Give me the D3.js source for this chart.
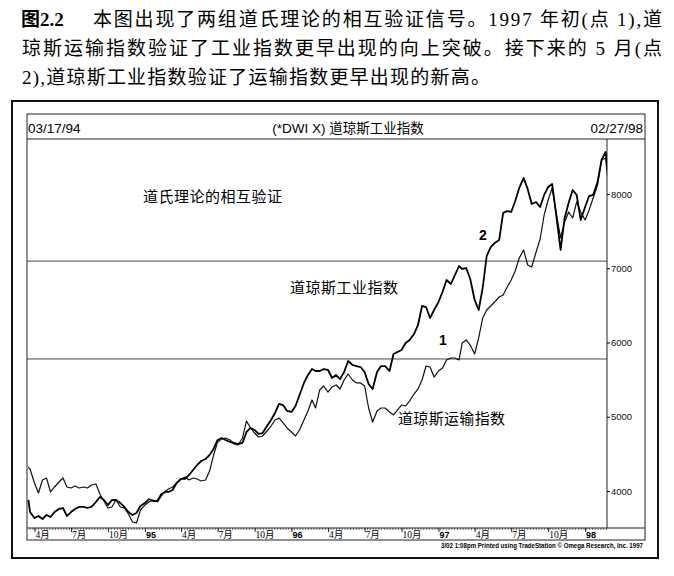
<!DOCTYPE html>
<html>
<head>
<meta charset="utf-8">
<script src="https://cdn.jsdelivr.net/npm/d3@7"></script>
<style>
  body { margin: 0; background: #fff; }
</style>
</head>
<body>
<div class="chart"></div>
<script>
// sample dates: first two days, then the 1st / 11th / 21st of every month, then last day
const firstDates = ['1994-03-17', '1994-03-21'];
const sampleDays = [1, 11, 21];
const lastDates = ['1998-02-27'];

// Dow Jones Industrials (thick line)
const industrials = [
  3879, 3717,
  3636, 3663, 3623, 3677, 3650, 3717, 3758, 3771, 3663,
  3717, 3758, 3785, 3785, 3771, 3785, 3852, 3919, 3879,
  3811, 3879, 3879, 3838, 3785, 3717, 3677, 3704, 3798,
  3838, 3892, 3865, 3865, 3960, 3987, 3987, 4013, 4108,
  4162, 4162, 4216, 4283, 4350, 4404, 4431, 4485, 4566,
  4687, 4714, 4687, 4660, 4647, 4633, 4647, 4795, 4849,
  4822, 4768, 4781, 4875, 4956, 5051, 5172, 5158, 5078,
  5064, 5145, 5293, 5455, 5562, 5643, 5616, 5616, 5643,
  5630, 5522, 5562, 5508, 5603, 5751, 5697, 5683, 5670,
  5603, 5441, 5374, 5603, 5683, 5683, 5616, 5845, 5872,
  5899, 5993, 6034, 6114, 6236, 6492, 6478, 6330, 6438,
  6546, 6680, 6842, 6788, 6909, 7030, 6990, 7003, 6855,
  6573, 6438, 6734, 7165, 7286, 7340, 7380, 7745, 7771,
  7758, 7906, 8081, 8216, 8068, 7866, 7893, 7825, 7987,
  8094, 8135, 7718, 7246, 7677, 7879, 8054, 7987, 7650,
  7825, 7973, 7987, 8162, 8458, 8566,
  8300,
];

// Dow Jones Transports, overlaid on the same scale (thin line)
const transports = [
  4323, 4296,
  4108, 3973, 4148, 4175, 3987, 4054, 4121, 4175, 4054,
  4040, 4067, 4040, 4054, 4040, 4081, 4094, 3960, 3865,
  3771, 3785, 3879, 3785, 3771, 3690, 3582, 3569, 3744,
  3811, 3852, 3879, 3852, 3933, 4000, 4027, 4054, 4108,
  4162, 4189, 4148, 4175, 4162, 4135, 4148, 4269, 4485,
  4660, 4700, 4714, 4687, 4633, 4620, 4714, 4943, 4849,
  4781, 4727, 4741, 4808, 4875, 4956, 4983, 4916, 4849,
  4795, 4741, 4822, 4956, 5078, 5226, 5118, 5360, 5414,
  5333, 5401, 5428, 5374, 5495, 5576, 5495, 5455, 5455,
  5414, 5118, 4929, 5078, 5118, 5118, 5064, 5024, 5091,
  5158, 5145, 5212, 5306, 5374, 5495, 5684, 5670, 5535,
  5616, 5657, 5764, 5791, 5791, 5764, 5993, 6034, 5966,
  5845, 6061, 6330, 6438, 6492, 6546, 6613, 6640, 6747,
  6842, 6963, 7138, 7246, 7044, 7017, 7219, 7394, 7717,
  7919, 8081, 7745, 7408, 7623, 7758, 7677, 7893, 7758,
  7650, 7785, 7946, 8121, 8458, 8485,
  8162,
];

const priceTicks = [4000, 5000, 6000, 7000, 8000];
const confirmLevels = [5778, 7096];
const quarterLabels = ['4月', '7月', '10月', '95', '4月', '7月', '10月', '96',
  '4月', '7月', '10月', '97', '4月', '7月', '10月', '98'];

const captionLines = [
  '本图出现了两组道氏理论的相互验证信号。1997 年初(点 1),道',
  '琼斯运输指数验证了工业指数更早出现的向上突破。接下来的 5 月(点',
  '2),道琼斯工业指数验证了运输指数更早出现的新高。',
];

const parse = d3.timeParse('%Y-%m-%d');
const dates = firstDates.map(parse)
  .concat(d3.timeMonths(new Date(1994, 3, 1), new Date(1998, 2, 1))
    .flatMap(m => sampleDays.map(d => new Date(m.getFullYear(), m.getMonth(), d))))
  .concat(lastDates.map(parse));

const indData = dates.map((d, i) => ({ date: d, value: industrials[i] }));
const trnData = dates.map((d, i) => ({ date: d, value: transports[i] }));

const W = 674, H = 576;
const cjk = '"Noto Sans CJK SC", sans-serif';
const serifCjk = '"Liberation Serif", "Noto Sans CJK SC", serif';
const sans = '"Liberation Sans", Arial, sans-serif';

const svg = d3.select('.chart').append('svg')
  .attr('width', W)
  .attr('height', H)
  .style('display', 'block');

// caption above the chart
const cap = svg.append('g').attr('fill', '#000').style('font-family', serifCjk);
cap.append('text')
  .attr('x', 21).attr('y', 26)
  .style('font-size', '19px').style('font-weight', 'bold')
  .text('图2.2');
cap.append('text')
  .attr('x', 93).attr('y', 26)
  .attr('textLength', 569).attr('lengthAdjust', 'spacing')
  .style('font-size', '19px')
  .text(captionLines[0]);
cap.append('text')
  .attr('x', 22).attr('y', 55)
  .attr('textLength', 640).attr('lengthAdjust', 'spacing')
  .style('font-size', '19px')
  .text(captionLines[1]);
cap.append('text')
  .attr('x', 22).attr('y', 84)
  .attr('textLength', 468).attr('lengthAdjust', 'spacing')
  .style('font-size', '19px')
  .text(captionLines[2]);

// frames
const plot = { left: 27, right: 607, top: 139, bottom: 528 };
const inner = { left: 27, right: 645, top: 114, bottom: 540 };

svg.append('rect')
  .attr('x', 12).attr('y', 101)
  .attr('width', 658 - 12).attr('height', 558 - 101)
  .attr('fill', 'none').attr('stroke', '#111').attr('stroke-width', 2);

svg.append('rect')
  .attr('x', inner.left).attr('y', inner.top)
  .attr('width', inner.right - inner.left).attr('height', inner.bottom - inner.top)
  .attr('fill', 'none').attr('stroke', '#222').attr('stroke-width', 1);

svg.append('line')
  .attr('x1', inner.left).attr('x2', inner.right)
  .attr('y1', plot.top).attr('y2', plot.top)
  .attr('stroke', '#222');

svg.append('line')
  .attr('x1', inner.left).attr('x2', inner.right)
  .attr('y1', plot.bottom).attr('y2', plot.bottom)
  .attr('stroke', '#222');

// header row
svg.append('text')
  .attr('x', 28).attr('y', 133)
  .style('font-family', sans).style('font-size', '13.5px')
  .text('03/17/94');
svg.append('text')
  .attr('x', 348).attr('y', 133)
  .attr('text-anchor', 'middle')
  .style('font-family', '"Liberation Sans", "Noto Sans CJK SC", sans-serif')
  .style('font-size', '13.5px')
  .text('(*DWI X) 道琼斯工业指数');
svg.append('text')
  .attr('x', 643).attr('y', 133)
  .attr('text-anchor', 'end')
  .style('font-family', sans).style('font-size', '13.5px')
  .text('02/27/98');

// scales
const x = d3.scaleTime()
  .domain([new Date(1994, 0, 1), new Date(1998, 0, 1)])
  .range([-1.7, 585.1]);

const y = d3.scaleLinear()
  .domain([4000, 8000])
  .range([491, 194]);

// right price axis
svg.append('line')
  .attr('x1', plot.right).attr('x2', plot.right)
  .attr('y1', plot.top).attr('y2', plot.bottom)
  .attr('stroke', '#222');

const yAxis = d3.axisRight(y)
  .tickValues(priceTicks)
  .tickSize(3)
  .tickPadding(1)
  .tickFormat(d3.format('d'));

svg.append('g')
  .attr('class', 'y axis')
  .attr('transform', `translate(${plot.right},0)`)
  .call(yAxis)
  .call(g => g.select('.domain').remove())
  .call(g => g.selectAll('text')
    .style('font-family', sans).style('font-size', '9.5px').attr('fill', '#111'));

// confirmation levels
svg.selectAll('.level')
  .data(confirmLevels)
  .enter()
  .append('line')
  .attr('class', 'level')
  .attr('x1', plot.left).attr('x2', plot.right)
  .attr('y1', d => y(d)).attr('y2', d => y(d))
  .attr('stroke', '#333').attr('stroke-width', 0.9);

// bottom date strip
const minorAxis = d3.axisBottom(x)
  .tickValues(d3.timeWeek.range(new Date(1994, 2, 17), new Date(1998, 1, 28)))
  .tickSize(2)
  .tickFormat('');

svg.append('g')
  .attr('transform', `translate(0,${plot.bottom})`)
  .call(minorAxis)
  .call(g => g.select('.domain').remove())
  .call(g => g.selectAll('line').attr('stroke', '#333').attr('stroke-width', 0.7));

const quarters = d3.timeMonths(new Date(1994, 3, 1), new Date(1998, 0, 2), 3);

const majorAxis = d3.axisBottom(x)
  .tickValues(quarters)
  .tickSize(4)
  .tickFormat('');

svg.append('g')
  .attr('transform', `translate(0,${plot.bottom})`)
  .call(majorAxis)
  .call(g => g.select('.domain').remove())
  .call(g => g.selectAll('line').attr('stroke', '#222'));

svg.selectAll('.qlabel')
  .data(quarters)
  .enter()
  .append('text')
  .attr('class', 'qlabel')
  .attr('x', d => x(d) + 1)
  .attr('y', 538)
  .style('font-family', d => d.getMonth() === 0 ? sans : serifCjk)
  .style('font-size', d => d.getMonth() === 0 ? '9px' : '9.5px')
  .style('font-weight', d => d.getMonth() === 0 ? 'bold' : 'normal')
  .text((d, i) => quarterLabels[i]);

// footer
svg.append('text')
  .attr('x', 643).attr('y', 548)
  .attr('text-anchor', 'end')
  .attr('textLength', 202).attr('lengthAdjust', 'spacingAndGlyphs')
  .style('font-family', sans).style('font-size', '6.5px').style('font-weight', 'bold')
  .text('3/02 1:08pm Printed using TradeStation © Omega Research, Inc. 1997');

// lines
svg.append('clipPath').attr('id', 'plotclip')
  .append('rect')
  .attr('x', plot.left).attr('y', plot.top)
  .attr('width', plot.right - plot.left).attr('height', plot.bottom - plot.top);

const line = d3.line()
  .x(d => x(d.date))
  .y(d => y(d.value));

const lines = svg.append('g').attr('clip-path', 'url(#plotclip)');

lines.append('path')
  .datum(trnData)
  .attr('d', line)
  .attr('fill', 'none')
  .attr('stroke', '#111')
  .attr('stroke-width', 1.2)
  .attr('stroke-linejoin', 'round');

lines.append('path')
  .datum(indData)
  .attr('d', line)
  .attr('fill', 'none')
  .attr('stroke', '#000')
  .attr('stroke-width', 1.8)
  .attr('stroke-linejoin', 'round');

// annotations
const notes = svg.append('g').attr('fill', '#000').style('font-family', cjk);
notes.append('text').attr('x', 143).attr('y', 202)
  .attr('textLength', 139).attr('lengthAdjust', 'spacing')
  .style('font-size', '15px').text('道氏理论的相互验证');
notes.append('text').attr('x', 290).attr('y', 293)
  .attr('textLength', 108).attr('lengthAdjust', 'spacing')
  .style('font-size', '15px').text('道琼斯工业指数');
notes.append('text').attr('x', 398).attr('y', 424)
  .attr('textLength', 107).attr('lengthAdjust', 'spacing')
  .style('font-size', '15px').text('道琼斯运输指数');

notes.append('text').attr('x', 443).attr('y', 345)
  .attr('text-anchor', 'middle')
  .style('font-family', sans).style('font-size', '14px').style('font-weight', 'bold')
  .text('1');
notes.append('text').attr('x', 483).attr('y', 240)
  .attr('text-anchor', 'middle')
  .style('font-family', sans).style('font-size', '14px').style('font-weight', 'bold')
  .text('2');
</script>
</body>
</html>
